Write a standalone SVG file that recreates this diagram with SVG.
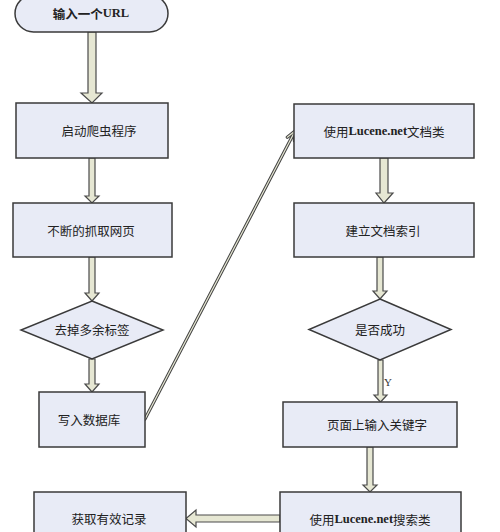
<svg xmlns="http://www.w3.org/2000/svg" width="500" height="532" viewBox="0 0 500 532">
<style>
.n{fill:#e8ebf6;stroke:#3a3a3a;stroke-width:1.5}
.a{fill:#e6e7d3;stroke:#4a4a4a;stroke-width:1.2;stroke-linejoin:miter}
.t{font-family:"Noto Sans CJK SC","Liberation Serif",serif;font-size:12.5px;fill:#222;text-anchor:middle;dominant-baseline:central}
.l{font-family:"Liberation Serif",serif;font-weight:bold}
</style>
<rect width="500" height="532" fill="#ffffff"/>
<g id="connectors">
<path class="a" d="M88,32 H96 V93 H102 L92,103 L81,93 H88 Z"/>
<path class="a" d="M89,158 H95 V196 H99 L92,203 L85,196 H89 Z"/>
<path class="a" d="M89,257 H95 V293 H99 L92,301 L85,293 H89 Z"/>
<path class="a" d="M89,359 H95 V384 H99 L92,392 L85,384 H89 Z"/>
<path class="a" d="M380,158 H388 V193 H393 L384,203 L376,193 H380 Z"/>
<path class="a" d="M377,257 H383 V291 H387 L380,299 L373,291 H377 Z"/>
<path class="a" d="M378,360 H383 V395 H387 L380.5,402 L374,395 H378 Z"/>
<path class="a" d="M367,447 H373 V485 H377 L370,492 L363,485 H367 Z"/>
<path class="a" d="M280,515 V522 H196 V527 L186,518.5 L196,510 V515 Z"/>
<g id="diag">
<path d="M145,419 L294,133 M294.4,140.8 L295,131 L287.3,137.2" fill="none" stroke="#444" stroke-width="3.2" stroke-linecap="round" stroke-linejoin="round"/>
<path d="M145,419 L294,133 M294.4,140.8 L295,131 L287.3,137.2" fill="none" stroke="#e6e7d3" stroke-width="1.2" stroke-linecap="round" stroke-linejoin="round"/>
</g>
<text x="384" y="386" style="font-family:'Liberation Serif',serif;font-size:11px;fill:#333">Y</text>
</g>
<g id="start"><rect class="n" x="15" y="-5" width="153" height="37" rx="18.5"/><text class="t" x="91" y="13" font-weight="bold">输入一个<tspan class="l">URL</tspan></text></g>
<g id="crawl"><rect class="n" x="16" y="103" width="152" height="55"/><text class="t" x="99" y="130">启动爬虫程序</text></g>
<g id="fetch"><rect class="n" x="13" y="203" width="159" height="54"/><text class="t" x="91" y="230">不断的抓取网页</text></g>
<g id="strip"><polygon class="n" points="92,301 163,330 92,359 21,330"/><text class="t" x="92" y="329">去掉多余标签</text></g>
<g id="db"><rect class="n" x="39" y="392" width="106" height="55"/><text class="t" x="89" y="419">写入数据库</text></g>
<g id="result"><rect class="n" x="34" y="492" width="152" height="45"/><text class="t" x="109" y="518">获取有效记录</text></g>
<g id="doc"><rect class="n" x="294" y="104" width="180" height="54"/><text class="t" x="384" y="131">使用<tspan class="l">Lucene.net</tspan>文档类</text></g>
<g id="index"><rect class="n" x="294" y="203" width="180" height="54"/><text class="t" x="383" y="230">建立文档索引</text></g>
<g id="ok"><polygon class="n" points="380,299 451,329.5 380,360 309,329.5"/><text class="t" x="380" y="329">是否成功</text></g>
<g id="keyword"><rect class="n" x="283" y="402" width="174" height="45"/><text class="t" x="377" y="424">页面上输入关键字</text></g>
<g id="search"><rect class="n" x="280" y="492" width="181" height="45"/><text class="t" x="370" y="519">使用<tspan class="l">Lucene.net</tspan>搜索类</text></g>
</svg>
